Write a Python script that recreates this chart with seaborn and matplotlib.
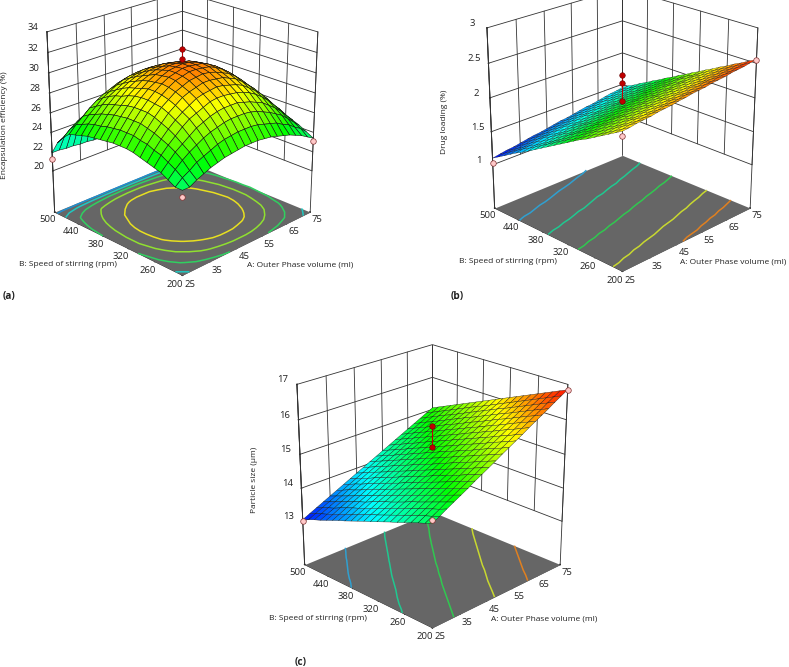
import numpy as np
import matplotlib
matplotlib.use('Agg')
import matplotlib.pyplot as plt
import seaborn as sns
from matplotlib.colors import LinearSegmentedColormap

sns.set_theme(style='white')
plt.rcParams['font.family'] = ['Open Sans', 'DejaVu Sans']

volume = [25,27.5,30,32.5,35,37.5,40,42.5,45,47.5,50,52.5,55,57.5,60,62.5,65,67.5,70,72.5,75]
speed = [200,215,230,245,260,275,290,305,320,335,350,365,380,395,410,425,440,455,470,485,500]
a_ticks = [25, 35, 45, 55, 65, 75]
b_ticks = [200, 260, 320, 380, 440, 500]

ee = [
[23.9,23.9,24.3,24.6,24.9,25.1,25.3,25.4,25.5,25.6,25.6,25.6,25.5,25.4,25.2,25.0,24.8,24.5,24.2,23.8,23.4],
[23.9,24.5,24.9,25.4,25.7,26.0,26.3,26.5,26.6,26.7,26.7,26.7,26.6,26.4,26.2,26.0,25.6,25.3,24.8,24.4,23.8],
[24.3,25.0,25.6,26.1,26.5,26.9,27.2,27.4,27.6,27.7,27.7,27.7,27.6,27.4,27.1,26.8,26.4,26.0,25.4,24.8,24.2],
[24.7,25.4,26.1,26.6,27.1,27.6,27.9,28.2,28.4,28.5,28.5,28.5,28.3,28.1,27.8,27.5,27.0,26.5,25.9,25.2,24.5],
[24.9,25.8,26.5,27.1,27.7,28.2,28.5,28.8,29.1,29.2,29.2,29.1,29.0,28.8,28.5,28.1,27.6,27.0,26.3,25.6,24.7],
[25.1,26.0,26.8,27.5,28.1,28.6,29.0,29.4,29.6,29.7,29.8,29.7,29.5,29.3,29.0,28.5,28.0,27.4,26.7,25.8,24.9],
[25.3,26.3,27.1,27.8,28.5,29.0,29.5,29.8,30.0,30.2,30.2,30.1,30.0,29.7,29.4,28.9,28.3,27.7,26.9,26.1,25.1],
[25.5,26.4,27.3,28.1,28.8,29.3,29.8,30.1,30.4,30.5,30.6,30.5,30.3,30.0,29.7,29.2,28.6,27.9,27.1,26.2,25.2],
[25.6,26.6,27.5,28.3,28.9,29.5,30.0,30.4,30.6,30.8,30.8,30.7,30.6,30.3,29.9,29.4,28.8,28.1,27.3,26.3,25.3],
[25.6,26.6,27.5,28.3,29.0,29.6,30.1,30.5,30.7,30.9,30.9,30.8,30.7,30.4,30.0,29.5,28.9,28.2,27.3,26.4,25.4],
[25.6,26.6,27.5,28.3,29.0,29.6,30.0,30.4,30.7,30.8,30.9,30.8,30.6,30.3,29.9,29.4,28.8,28.1,27.3,26.4,25.3],
[25.5,26.5,27.4,28.2,28.9,29.4,29.9,30.3,30.5,30.7,30.7,30.6,30.5,30.2,29.8,29.3,28.7,28.0,27.2,26.3,25.3],
[25.4,26.4,27.3,28.0,28.7,29.2,29.7,30.0,30.3,30.4,30.5,30.4,30.2,30.0,29.6,29.1,28.5,27.8,27.1,26.2,25.2],
[25.3,26.2,27.1,27.8,28.4,29.0,29.4,29.7,30.0,30.1,30.2,30.1,29.9,29.7,29.3,28.9,28.3,27.6,26.9,26.0,25.1],
[25.2,26.1,26.9,27.6,28.2,28.7,29.1,29.4,29.6,29.8,29.8,29.7,29.6,29.3,29.0,28.6,28.0,27.4,26.7,25.9,25.0],
[25.0,25.9,26.6,27.3,27.9,28.3,28.7,29.0,29.2,29.4,29.4,29.3,29.2,29.0,28.6,28.2,27.7,27.1,26.4,25.7,24.8],
[24.8,25.6,26.3,26.9,27.5,27.9,28.3,28.6,28.8,28.9,28.9,28.9,28.7,28.5,28.2,27.8,27.3,26.8,26.1,25.4,24.6],
[24.6,25.3,25.9,26.5,27.0,27.4,27.7,28.0,28.2,28.3,28.3,28.3,28.1,27.9,27.7,27.3,26.9,26.4,25.8,25.1,24.4],
[24.0,24.6,25.1,25.5,25.9,26.2,26.5,26.7,26.8,26.9,26.9,26.9,26.8,26.6,26.4,26.1,25.8,25.4,25.0,24.5,23.9],
[23.2,23.6,23.8,24.1,24.3,24.5,24.6,24.8,24.8,24.9,24.9,24.9,24.8,24.7,24.6,24.5,24.3,24.0,23.8,23.5,23.2],
[21.9,21.9,21.8,21.8,21.7,21.7,21.6,21.6,21.6,21.6,21.6,21.6,21.6,21.6,21.7,21.7,21.7,21.8,21.8,21.9,21.9],
]
dl = [
[2.28,2.29,2.31,2.32,2.33,2.35,2.36,2.37,2.39,2.40,2.42,2.43,2.44,2.46,2.47,2.48,2.50,2.51,2.52,2.54,2.55],
[2.22,2.23,2.25,2.26,2.27,2.29,2.30,2.32,2.33,2.34,2.36,2.37,2.38,2.40,2.41,2.43,2.44,2.45,2.47,2.48,2.50],
[2.16,2.17,2.19,2.20,2.22,2.23,2.24,2.26,2.27,2.29,2.30,2.31,2.33,2.34,2.36,2.37,2.38,2.40,2.41,2.43,2.44],
[2.10,2.11,2.13,2.14,2.16,2.17,2.19,2.20,2.21,2.23,2.24,2.26,2.27,2.29,2.30,2.31,2.33,2.34,2.36,2.37,2.39],
[2.04,2.05,2.07,2.08,2.10,2.11,2.13,2.14,2.16,2.17,2.19,2.20,2.21,2.23,2.24,2.26,2.27,2.29,2.30,2.32,2.33],
[1.98,2.00,2.01,2.03,2.04,2.06,2.07,2.09,2.10,2.11,2.13,2.14,2.16,2.17,2.19,2.20,2.22,2.23,2.25,2.26,2.28],
[1.93,1.94,1.96,1.97,1.99,2.00,2.02,2.03,2.05,2.06,2.07,2.09,2.10,2.12,2.13,2.15,2.16,2.18,2.19,2.21,2.22],
[1.87,1.88,1.90,1.91,1.93,1.94,1.96,1.97,1.99,2.00,2.02,2.03,2.05,2.06,2.08,2.09,2.11,2.12,2.14,2.15,2.17],
[1.81,1.82,1.84,1.85,1.87,1.88,1.90,1.91,1.93,1.94,1.96,1.97,1.99,2.00,2.02,2.03,2.05,2.06,2.08,2.09,2.11],
[1.75,1.77,1.78,1.80,1.81,1.83,1.84,1.86,1.87,1.89,1.90,1.92,1.93,1.95,1.96,1.98,2.00,2.01,2.03,2.04,2.06],
[1.69,1.71,1.72,1.74,1.75,1.77,1.78,1.80,1.81,1.83,1.85,1.86,1.88,1.89,1.91,1.92,1.94,1.95,1.97,1.98,2.00],
[1.63,1.65,1.66,1.68,1.69,1.71,1.73,1.74,1.76,1.77,1.79,1.80,1.82,1.83,1.85,1.87,1.88,1.90,1.91,1.93,1.95],
[1.57,1.59,1.60,1.62,1.63,1.65,1.67,1.68,1.70,1.71,1.73,1.75,1.76,1.78,1.79,1.81,1.83,1.84,1.86,1.87,1.89],
[1.51,1.53,1.54,1.56,1.58,1.59,1.61,1.62,1.64,1.66,1.67,1.69,1.71,1.72,1.74,1.75,1.77,1.79,1.80,1.82,1.84],
[1.45,1.47,1.48,1.50,1.52,1.53,1.55,1.57,1.58,1.60,1.62,1.63,1.65,1.66,1.68,1.70,1.71,1.73,1.75,1.76,1.78],
[1.39,1.41,1.42,1.44,1.46,1.47,1.49,1.51,1.52,1.54,1.56,1.57,1.59,1.61,1.62,1.64,1.66,1.67,1.69,1.71,1.73],
[1.34,1.36,1.37,1.39,1.41,1.42,1.44,1.46,1.47,1.49,1.51,1.52,1.54,1.55,1.57,1.59,1.60,1.62,1.64,1.65,1.67],
[1.28,1.30,1.31,1.33,1.35,1.36,1.38,1.40,1.41,1.43,1.45,1.46,1.48,1.50,1.51,1.53,1.55,1.56,1.58,1.60,1.62],
[1.22,1.24,1.25,1.27,1.29,1.31,1.32,1.34,1.36,1.37,1.39,1.41,1.42,1.44,1.46,1.48,1.49,1.51,1.53,1.54,1.56],
[1.16,1.18,1.19,1.21,1.23,1.25,1.26,1.28,1.30,1.32,1.33,1.35,1.37,1.38,1.40,1.42,1.44,1.45,1.47,1.49,1.51],
[1.10,1.12,1.14,1.15,1.17,1.19,1.21,1.22,1.24,1.26,1.28,1.29,1.31,1.33,1.35,1.36,1.38,1.40,1.42,1.43,1.45],
]
ps = [
[14.60,14.71,14.83,14.94,15.05,15.16,15.28,15.39,15.50,15.61,15.73,15.84,15.95,16.06,16.18,16.29,16.40,16.51,16.63,16.74,16.85],
[14.52,14.63,14.74,14.86,14.97,15.08,15.19,15.30,15.42,15.53,15.64,15.75,15.86,15.98,16.09,16.20,16.31,16.42,16.54,16.65,16.76],
[14.45,14.56,14.67,14.78,14.89,15.00,15.12,15.23,15.34,15.45,15.56,15.67,15.78,15.89,16.00,16.12,16.23,16.34,16.45,16.56,16.67],
[14.37,14.48,14.59,14.70,14.81,14.92,15.03,15.14,15.25,15.36,15.48,15.59,15.70,15.81,15.92,16.03,16.14,16.25,16.36,16.47,16.58],
[14.29,14.40,14.51,14.62,14.73,14.84,14.95,15.06,15.17,15.28,15.39,15.50,15.61,15.72,15.83,15.94,16.05,16.16,16.27,16.38,16.49],
[14.21,14.32,14.43,14.54,14.65,14.76,14.87,14.98,15.09,15.20,15.31,15.41,15.52,15.63,15.74,15.85,15.96,16.07,16.18,16.29,16.40],
[14.14,14.25,14.36,14.47,14.57,14.68,14.79,14.90,15.01,15.12,15.23,15.33,15.44,15.55,15.66,15.77,15.88,15.98,16.09,16.20,16.31],
[14.06,14.17,14.28,14.38,14.49,14.60,14.71,14.82,14.92,15.03,15.14,15.25,15.36,15.46,15.57,15.68,15.79,15.90,16.00,16.11,16.22],
[13.98,14.09,14.20,14.30,14.41,14.52,14.63,14.73,14.84,14.95,15.06,15.16,15.27,15.38,15.49,15.59,15.70,15.81,15.92,16.02,16.13],
[13.90,14.01,14.11,14.22,14.33,14.44,14.54,14.65,14.76,14.86,14.97,15.08,15.18,15.29,15.40,15.51,15.61,15.72,15.83,15.93,16.04],
[13.83,13.94,14.04,14.15,14.25,14.36,14.47,14.57,14.68,14.78,14.89,15.00,15.10,15.21,15.31,15.42,15.53,15.63,15.74,15.84,15.95],
[13.75,13.86,13.96,14.07,14.17,14.28,14.38,14.49,14.59,14.70,14.81,14.91,15.02,15.12,15.23,15.33,15.44,15.54,15.65,15.75,15.86],
[13.67,13.78,13.88,13.99,14.09,14.20,14.30,14.41,14.51,14.62,14.72,14.83,14.93,15.04,15.14,15.25,15.35,15.46,15.56,15.67,15.77],
[13.59,13.69,13.80,13.90,14.01,14.11,14.22,14.32,14.43,14.53,14.64,14.74,14.84,14.95,15.05,15.16,15.26,15.37,15.47,15.58,15.68],
[13.52,13.62,13.73,13.83,13.93,14.04,14.14,14.24,14.35,14.45,14.56,14.66,14.76,14.87,14.97,15.07,15.18,15.28,15.38,15.49,15.59],
[13.44,13.54,13.65,13.75,13.85,13.96,14.06,14.16,14.26,14.37,14.47,14.57,14.68,14.78,14.88,14.99,15.09,15.19,15.29,15.40,15.50],
[13.36,13.46,13.57,13.67,13.77,13.87,13.98,14.08,14.18,14.28,14.39,14.49,14.59,14.69,14.80,14.90,15.00,15.10,15.21,15.31,15.41],
[13.28,13.38,13.48,13.59,13.69,13.79,13.89,13.99,14.10,14.20,14.30,14.40,14.50,14.61,14.71,14.81,14.91,15.01,15.12,15.22,15.32],
[13.21,13.31,13.41,13.51,13.61,13.72,13.82,13.92,14.02,14.12,14.22,14.32,14.42,14.52,14.62,14.73,14.83,14.93,15.03,15.13,15.23],
[13.13,13.23,13.33,13.43,13.53,13.63,13.73,13.83,13.93,14.03,14.14,14.24,14.34,14.44,14.54,14.64,14.74,14.84,14.94,15.04,15.14],
[13.05,13.15,13.25,13.35,13.45,13.55,13.65,13.75,13.85,13.95,14.05,14.15,14.25,14.35,14.45,14.55,14.65,14.75,14.85,14.95,15.05],
]

cm = LinearSegmentedColormap.from_list('de', ['#0000ff','#00ffff','#00ff00','#ffff00','#ff0000'])
W, H = 789, 667
fig = plt.figure(figsize=(W/100, H/100), dpi=100, facecolor='white')
FS = 6.05
RW = 400
ZOOM, FOCAL, ELEV, HZ = 0.795, 0.60, 22.8, 1.05

def panel(cx, cy, Z, zticks, zfloor, vmin, vmax, edge_lw, levels, lcolors, corners, centre, zlabel, zlabel_xy, blabel_xy, alabel_xy, tag, tag_xy):
    ax = fig.add_axes([(cx-RW/2)/W, 1-(cy+RW/2)/H, RW/W, RW/H], projection='3d')
    ax.patch.set_alpha(0)
    ax.set_proj_type('persp', focal_length=FOCAL)
    ax.view_init(elev=ELEV, azim=-135)
    ax.set_box_aspect((1, 1, HZ), zoom=ZOOM)
    ax.computed_zorder = False
    ztop = zticks[-1]
    ax.set_xlim(25, 75, view_margin=0)
    ax.set_ylim(200, 500, view_margin=0)
    ax.set_zlim(zfloor, ztop, view_margin=0)
    ax.grid(False)
    for a in (ax.xaxis, ax.yaxis, ax.zaxis):
        a.pane.set_visible(False)
        a.line.set_color('#222222'); a.line.set_linewidth(0.7)
        a._axinfo['tick']['inward_factor'] = 0
        a._axinfo['tick']['outward_factor'] = 0.015
        a._axinfo['tick']['color'] = 'k'
    ax.set_xticks(a_ticks); ax.set_yticks(b_ticks); ax.set_zticks(zticks)
    ax.set_zticklabels([str(t) for t in zticks])
    ax.tick_params(axis='both', labelsize=6.8, colors='#222222', pad=0)
    for a in (ax.xaxis, ax.yaxis, ax.zaxis):
        for lab in a.get_ticklabels():
            lab.set_verticalalignment('bottom')
    X, Y = np.meshgrid(volume, speed)
    Z = np.array(Z)
    ax.plot_surface(np.array([[25,75],[25,75]]), np.array([[200,200],[500,500]]), np.full((2,2), zfloor), color='#666666', shade=False, zorder=1, linewidth=0)
    ax.contour(X, Y, Z, levels=levels, colors=lcolors, zdir='z', offset=zfloor, linewidths=1.1, zorder=2)
    gc = '#333333'; lw = 0.6
    for x in a_ticks:
        ax.plot([x, x], [500, 500], [zticks[0], ztop], color=gc, lw=lw, zorder=3)
    for y in b_ticks:
        ax.plot([75, 75], [y, y], [zticks[0], ztop], color=gc, lw=lw, zorder=3)
    for z in zticks:
        ax.plot([25, 75, 75], [500, 500, 200], [z, z, z], color=gc, lw=lw, zorder=3)
    ax.plot([75, 75], [500, 500], [zfloor, ztop], color=gc, lw=lw, zorder=3)
    ax.plot([75, 75], [200, 200], [zfloor, ztop], color=gc, lw=lw, zorder=3)
    ax.plot([25, 25], [500, 500], [zfloor, ztop], color=gc, lw=lw, zorder=3)
    ax.plot_surface(X, Y, Z, cmap=cm, vmin=vmin, vmax=vmax, rstride=1, cstride=1, edgecolor='#111111', linewidth=edge_lw, shade=False, zorder=4)
    ax.plot([50]*len(centre), [350]*len(centre), centre, color='#c00000', lw=0.8, zorder=5)
    ax.scatter([50]*len(centre), [350]*len(centre), centre, s=16, c='#c00000', edgecolors='#600000', linewidths=0.4, depthshade=False, zorder=6)
    ax.scatter([c[0] for c in corners], [c[1] for c in corners], [c[2] for c in corners], s=16, c='#ffc8c8', edgecolors='#803030', linewidths=0.5, depthshade=False, zorder=6)
    fig.text(zlabel_xy[0]/W, 1-zlabel_xy[1]/H, zlabel, rotation=90, ha='center', va='center', fontsize=FS, color='#222222')
    fig.text(blabel_xy[0]/W, 1-blabel_xy[1]/H, 'B: Speed of stirring (rpm)', ha='center', va='center', fontsize=FS, color='#222222')
    fig.text(alabel_xy[0]/W, 1-alabel_xy[1]/H, 'A: Outer Phase volume (ml)', ha='center', va='center', fontsize=FS, color='#222222')
    fig.text(tag_xy[0]/W, 1-tag_xy[1]/H, tag, ha='center', va='center', fontsize=7.2, fontweight='bold', color='#222222')

panel(177, 130, ee, [20,22,24,26,28,30,32,34], 15.6, 18.0, 32.6, 0.4, [22.5,23.9,25.4,27.1,28.7], ['#2090d0','#20c8c0','#30d060','#90e030','#e8e020'],
      [(25,500,21.2),(25,200,23.3),(75,200,23.1)], [31.4,32.3], 'Encapsulation efficiency (%)', (5,125), (68,265), (300,265), '(a)', (9,296))
panel(617, 126, dl, [1,1.5,2,2.5,3], 0.33, 1.1, 2.6, 0.2, [1.35,1.62,1.9,2.2,2.4], ['#30a0d0','#20c890','#30c850','#c8d830','#e08020'],
      [(25,500,1.02),(25,200,2.22),(75,200,2.54)], [1.95,2.22,2.33], 'Drug loading (%)', (445,122), (508,262), (733,262), '(b)', (457,296))
panel(427, 482.5, ps, [13,14,15,16,17], 11.66, 13.0, 16.9, 0.25, [13.65,14.26,14.95,15.64,16.24], ['#30a0d0','#20c890','#30c850','#c8d830','#e08020'],
      [(25,500,13),(25,200,14.7),(75,200,16.85)], [15.22,15.83], 'Particle size (µm)', (254,480), (318,619), (544,619), '(c)', (301,662))

fig.savefig('out.png', dpi=100)
